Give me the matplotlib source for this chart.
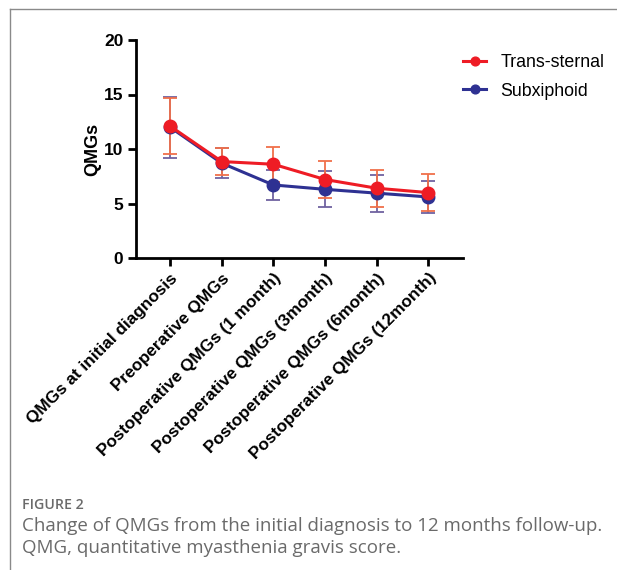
"""Change of QMGs from initial diagnosis to 12 months follow-up."""

import matplotlib
matplotlib.use("Agg")
import matplotlib.pyplot as plt
from matplotlib.lines import Line2D

categories = [
    "QMGs at initial diagnosis",
    "Preoperative QMGs",
    "Postoperative QMGs (1 month)",
    "Postoperative QMGs (3month)",
    "Postoperative QMGs (6month)",
    "Postoperative QMGs (12month)",
]
trans_mean = [12.1, 8.85, 8.6, 7.2, 6.4, 6.0]
trans_sd = [2.55, 1.25, 1.6, 1.7, 1.7, 1.7]
subx_mean = [12.0, 8.7, 6.7, 6.3, 5.95, 5.6]
subx_sd = [2.8, 1.4, 1.4, 1.65, 1.7, 1.5]

W, H = 617, 570
fig = plt.figure(figsize=(W / 100, H / 100), dpi=100)
ax = fig.add_axes([136 / W, 1 - 258 / H, (463 - 136) / W, (258 - 40) / H])

font = "Liberation Sans"
x = list(range(len(categories)))

ax.errorbar(x, subx_mean, yerr=subx_sd, fmt="none", ecolor="#6f62a0",
            elinewidth=1.3, capsize=5, capthick=1.3, zorder=2)
ax.errorbar(x, trans_mean, yerr=trans_sd, fmt="none", ecolor="#f0704a",
            elinewidth=1.3, capsize=5, capthick=1.3, zorder=3)
ax.plot(x, subx_mean, color="#2e3192", lw=2.2, marker="o", ms=9,
        label="Subxiphoid", zorder=4)
ax.plot(x, trans_mean, color="#ee1c25", lw=2.2, marker="o", ms=9,
        label="Trans-sternal", zorder=5)

ax.set_xlim(-0.66, 5.67)
ax.set_ylim(0, 20)
ax.set_yticks([0, 5, 10, 15, 20])
ax.set_xticks(x)
ax.set_xticklabels(categories, rotation=45, ha="right", rotation_mode="anchor",
                   fontsize=12.3, fontweight="bold", family=font)
for lab in ax.get_yticklabels():
    lab.set_fontsize(12.5)
    lab.set_fontweight("bold")
    lab.set_family(font)
ax.set_ylabel("QMGs", fontsize=13, fontweight="bold", family=font, labelpad=2)

for side in ("top", "right"):
    ax.spines[side].set_visible(False)
for side in ("left", "bottom"):
    ax.spines[side].set_linewidth(2)
ax.tick_params(width=2, length=6, pad=3)

handles, labels = ax.get_legend_handles_labels()
ax.legend(handles[::-1], labels[::-1], loc="upper left",
          bbox_to_anchor=(447 / W, 1 - 38 / H), bbox_transform=fig.transFigure,
          frameon=False, prop={"family": font, "size": 12.8}, handlelength=1.3,
          labelspacing=0.65, handletextpad=0.8, markerscale=0.7)

# outer frame (top and left lines only)
fig.add_artist(Line2D([10 / W, 10 / W], [0, 1 - 9 / H], color="#8a8a8a", lw=1))
fig.add_artist(Line2D([10 / W, 1], [1 - 9 / H, 1 - 9 / H], color="#8a8a8a", lw=1))

fig.text(22 / W, 1 - 505 / H, "FIGURE 2", fontsize=10.2, color="#6a6a6a",
         family="Open Sans", fontweight="semibold", va="center")
fig.text(22 / W, 1 - 526 / H,
         "Change of QMGs from the initial diagnosis to 12 months follow-up.",
         fontsize=13.5, color="#6a6a6a", family="Open Sans", va="center")
fig.text(22 / W, 1 - 548 / H, "QMG, quantitative myasthenia gravis score.",
         fontsize=13.5, color="#6a6a6a", family="Open Sans", va="center")

fig.savefig("out.png", dpi=100)
